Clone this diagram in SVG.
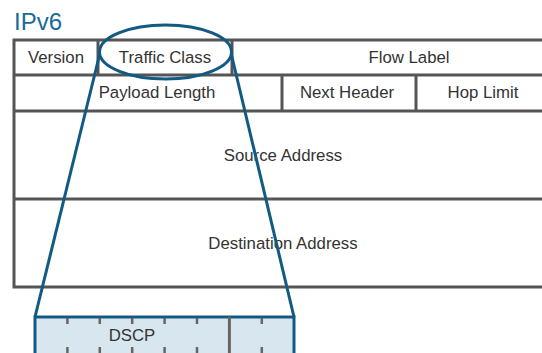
<svg xmlns="http://www.w3.org/2000/svg" width="542" height="353" viewBox="0 0 542 353">
  <style>
    .grid { stroke: #555; stroke-width: 3; fill: none; }
    .lbl { font-family: "Liberation Sans", Arial, sans-serif; font-size: 16.8px; fill: #333; text-anchor: middle; }
    .title { font-family: "Liberation Sans", Arial, sans-serif; font-size: 24px; fill: #1a6a99; }
    .zoom { stroke: #125a83; stroke-width: 3; fill: none; }
    .tick { stroke: #666; stroke-width: 2.5; }
  </style>
  <rect width="542" height="353" fill="#fff"/>

  <text class="title" x="14" y="30">IPv6</text>

  <!-- IPv6 header fields -->
  <g id="header">
    <path class="grid" d="M560 40 H14 V287 H560 M14 75 H560 M14 111 H560 M14 199 H560"/>
    <path class="grid" d="M98 40 V75 M232 40 V75 M282 75 V111 M416 75 V111"/>
  </g>
  <g id="version"><text class="lbl" x="56" y="63">Version</text></g>
  <g id="traffic-class"><text class="lbl" x="165" y="63">Traffic Class</text></g>
  <g id="flow-label"><text class="lbl" x="409" y="63">Flow Label</text></g>
  <g id="payload-length"><text class="lbl" x="157" y="98">Payload Length</text></g>
  <g id="next-header"><text class="lbl" x="347" y="98">Next Header</text></g>
  <g id="hop-limit"><text class="lbl" x="483" y="98">Hop Limit</text></g>
  <g id="source-address"><text class="lbl" x="283" y="161">Source Address</text></g>
  <g id="destination-address"><text class="lbl" x="283" y="249">Destination Address</text></g>

  <!-- Traffic Class byte breakdown -->
  <g id="tc-byte">
    <rect x="35" y="317" width="259" height="50" fill="#d8e6ef" stroke="#125a83" stroke-width="3"/>
    <line x1="229.4" y1="317" x2="229.4" y2="353" stroke="#666" stroke-width="3"/>
    <path class="tick" d="M67.4 318 V324 M99.8 318 V324 M132.2 318 V324 M164.6 318 V324 M197 318 V324 M261.8 318 V324
                          M67.4 347 V353 M99.8 347 V353 M132.2 347 V353 M164.6 347 V353 M197 347 V353 M261.8 347 V353"/>
    <text class="lbl" x="132" y="341">DSCP</text>
  </g>

  <!-- Highlight and expansion lines -->
  <g id="connectors">
    <ellipse class="zoom" cx="165.5" cy="52" rx="66" ry="27"/>
    <line class="zoom" x1="99.5" y1="55" x2="35" y2="317"/>
    <line class="zoom" x1="231.5" y1="55" x2="294" y2="317"/>
  </g>
</svg>
